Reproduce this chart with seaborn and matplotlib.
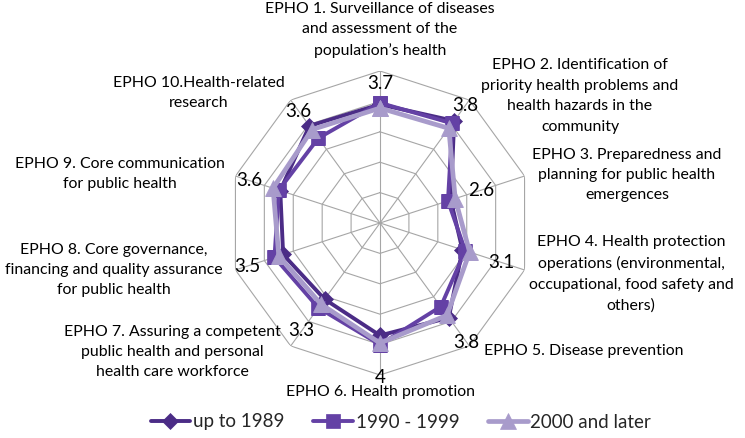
import numpy as np
import matplotlib
matplotlib.use("Agg")
import matplotlib.pyplot as plt
import seaborn as sns

categories = [
    "EPHO 1. Surveillance of diseases\nand assessment of the\npopulation\u2019s health",
    "EPHO 2. Identification of\npriority health problems and\nhealth hazards in the\ncommunity",
    "EPHO 3. Preparedness and\nplanning for public health\nemergences",
    "EPHO 4. Health protection\noperations (environmental,\noccupational, food safety and\nothers)",
    "EPHO 5. Disease prevention",
    "EPHO 6. Health promotion",
    "EPHO 7. Assuring a competent\npublic health and personal\nhealth care workforce",
    "EPHO 8. Core governance,\nfinancing and quality assurance\nfor public health",
    "EPHO 9. Core communication\nfor public health",
    "EPHO 10.Health-related\nresearch",
]
series_names = ["up to 1989", "1990 - 1999", "2000 and later"]
up_to_1989 = [3.9, 4.15, 2.45, 2.85, 3.85, 3.7, 3.1, 3.35, 3.45, 3.95]
y1990_1999 = [3.95, 4.05, 2.35, 2.95, 3.4, 4.0, 3.45, 3.65, 3.5, 3.45]
y2000_later = [3.78, 3.85, 2.6, 3.1, 3.75, 3.95, 3.3, 3.5, 3.7, 3.8]
value_labels = ["3.7", "3.8", "2.6", "3.1", "3.8", "4", "3.3", "3.5", "3.6", "3.6"]
ring_values = [1, 2, 3, 4, 5]

# layout (pixels)
W, H = 745, 438
cx, cy, R = 380, 223, 152
label_xy = [(380, 30), (580, 96), (627, 175), (631, 274), (584, 351),
            (381, 392), (172, 352), (114, 270), (120, 174), (199, 93)]
value_r = [4.6, 4.77, 3.5, 4.19, 4.85, 5.07, 4.39, 4.58, 4.53, 4.55]

sns.set_theme(style="white")
plt.rcParams["font.family"] = ["Lato", "DejaVu Sans"]

fig = plt.figure(figsize=(W / 100, H / 100), dpi=100)
ax = fig.add_axes([(cx - R) / W, (H - cy - R) / H, 2 * R / W, 2 * R / H], projection="polar")
ax.set_theta_zero_location("N")
ax.set_theta_direction(-1)
ax.set_axis_off()

n = len(categories)
theta = np.linspace(0, 2 * np.pi, n, endpoint=False)
tc = np.append(theta, 2 * np.pi)

grid_c = "#A6A6A6"
for r in ring_values:
    ax.plot(tc, [r] * (n + 1), color=grid_c, lw=0.8, zorder=1)
for t in theta:
    ax.plot([t, t], [0, ring_values[-1]], color=grid_c, lw=0.8, zorder=1)
ax.set_ylim(0, ring_values[-1])

styles = [("#4B2C86", "D", 8, 2.8), ("#6441A5", "s", 10, 2.8), ("#A89BCB", "^", 11, 3.4)]
for i, (name, vals, (c, m, ms, lw)) in enumerate(zip(series_names, [up_to_1989, y1990_1999, y2000_later], styles)):
    sns.lineplot(x=tc, y=np.append(vals, vals[0]), ax=ax, sort=False, color=c, marker=m,
                 markersize=ms, linewidth=lw, markeredgecolor=c, markeredgewidth=0.5,
                 label=name, zorder=3 + i)

handles, labels = ax.get_legend_handles_labels()
if ax.legend_ is not None:
    ax.legend_.remove()

for t, r, s in zip(theta, value_r, value_labels):
    ax.text(t, r, s, ha="center", va="center", fontsize=13.5, color="black", zorder=10)

for (x, y), s in zip(label_xy, categories):
    fig.text(x / W, 1 - y / H, s, ha="center", va="center", fontsize=11.4, linespacing=1.58, color="black")

fig.legend(handles, labels, loc="center", bbox_to_anchor=(401 / W, 1 - 422 / H), ncol=3, frameon=False,
           fontsize=13.5, handlelength=2.1, handletextpad=0.15, columnspacing=1.55)

fig.savefig("out.png", dpi=100)
